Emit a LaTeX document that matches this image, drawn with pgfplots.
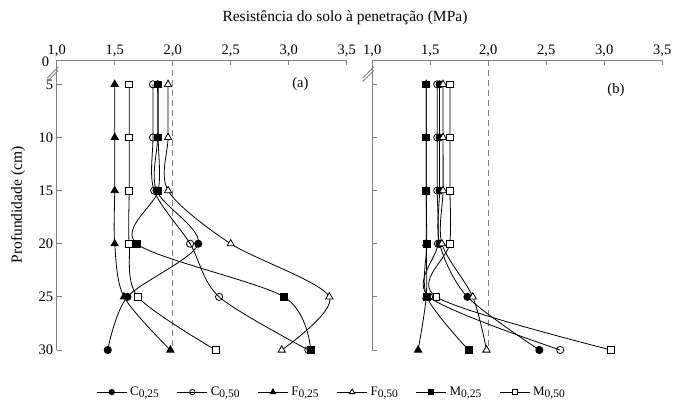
\documentclass[border=0pt]{standalone}
\usepackage{pgfplots}
\pgfplotsset{compat=1.18}
\usepackage{pgfplotstable}
\usepackage{fontspec}
\setmainfont{Liberation Serif}

\definecolor{axgray}{HTML}{808080}
\newcommand\sub[1]{\raisebox{-0.35ex}{\fontsize{11.5}{13}\selectfont #1}}

\pgfplotstableread{
depth C25 C50 F25 F50 M25 M50
5  1.87 1.83 1.50 1.96 1.875 1.625
10 1.87 1.83 1.50 1.96 1.875 1.625
15 1.86 1.84 1.50 1.96 1.875 1.625
20 2.22 2.15 1.50 2.50 1.69 1.625
25 1.61 2.40 1.58 3.35 2.96 1.70
30 1.44 3.17 1.98 2.94 3.19 2.37
}\tabA

\pgfplotstableread{
depth C25 C50 F25 F50 M25 M50
5  1.58 1.56 1.465 1.61 1.465 1.67
10 1.58 1.56 1.465 1.61 1.465 1.67
15 1.58 1.56 1.465 1.61 1.465 1.67
20 1.58 1.566 1.465 1.60 1.47 1.667
25 1.82 1.49 1.465 1.866 1.47 1.552
30 2.44 2.62 1.395 1.985 1.83 3.06
}\tabB

\pgfplotsset{
  panel/.style={
    scale only axis, width=290pt, height=290pt,
    xmin=1, xmax=3.5, ymin=2.71, ymax=30, y dir=reverse,
    axis x line*=top, axis y line*=left,
    axis line style={axgray, line width=0.9pt},
    every tick/.style={axgray, line width=0.9pt},
    tick align=inside, major tick length=5pt,
    xtick={1,1.5,2,2.5,3,3.5},
    ytick={5,10,15,20,25,30},
    xticklabel style={/pgf/number format/.cd, use comma, fixed, fixed zerofill, precision=1, assume math mode=true},
    yticklabel style={/pgf/number format/assume math mode=true},
    tick label style={font=\fontsize{14.5}{16}\selectfont, text=black},
    xticklabel pos=top,
    clip=false,
    anchor=center,
  },
  ser/.style={black, line width=0.8pt, smooth, tension=0.5, mark options={solid, line width=0.7pt}},
}

\begin{document}
\begin{tikzpicture}
\path[use as bounding box] (0,0) rectangle (673pt,-400pt);

\begin{axis}[panel, at={(201.7pt,-205pt)},
  extra y ticks={2.71}, extra y tick labels={0},
  extra y tick style={major tick length=0pt, yticklabel style={xshift=-4pt, yshift=-2pt}},
  legend columns=6,
  legend style={at={(0.948,-0.145)}, anchor=center, draw=none, fill=none,
    font=\fontsize{13}{15}\selectfont,
    /tikz/every even column/.append style={column sep=16pt},
    /tikz/every odd column/.append style={column sep=1pt}},
  legend image code/.code={\draw[#1, /tikz/every mark/.append style={scale=0.75}, mark repeat=2, mark phase=2] plot coordinates {(0pt,0pt) (15pt,0pt) (30pt,0pt)};},
  ylabel={Profundidade (cm)},
  ylabel style={font=\fontsize{15.5}{17}\selectfont, at={(axis description cs:-0.133,0.5)}, anchor=center},
]
\addplot[axgray, dashed, line width=1.5pt, dash pattern=on 6pt off 4pt, forget plot] coordinates {(2,2.71) (2,30)};
\addplot[ser, mark=*, mark size=3.6pt, mark options={fill=black}] table[x=C25, y=depth] {\tabA};
\addlegendentry{C\sub{0,25}}
\addplot[ser, mark=o, mark size=3.6pt, mark options={fill=white}] table[x=C50, y=depth] {\tabA};
\addlegendentry{C\sub{0,50}}
\addplot[ser, mark=triangle*, mark size=4.2pt, mark options={fill=black}] table[x=F25, y=depth] {\tabA};
\addlegendentry{F\sub{0,25}}
\addplot[ser, mark=triangle*, mark size=4.2pt, mark options={fill=white}] table[x=F50, y=depth] {\tabA};
\addlegendentry{F\sub{0,50}}
\addplot[ser, mark=square*, mark size=3.4pt, mark options={fill=black}] table[x=M25, y=depth] {\tabA};
\addlegendentry{M\sub{0,25}}
\addplot[ser, mark=square*, mark size=3.4pt, mark options={fill=white}] table[x=M50, y=depth] {\tabA};
\addlegendentry{M\sub{0,50}}
\node[font=\fontsize{14.5}{16}\selectfont] at (axis cs:3.1,5.0) {(a)};
\node[font=\fontsize{15.5}{17}\selectfont] at (axis description cs:0.994,1.145) {Resistência do solo à penetração (MPa)};
\draw[axgray, line width=0.9pt] ([xshift=-9.5pt,yshift=-5.5pt]axis cs:1,3.89) -- ++(11pt,11pt);
\draw[axgray, line width=0.9pt] ([xshift=-9.5pt,yshift=-5.5pt]axis cs:1,4.22) -- ++(11pt,11pt);
\end{axis}

\begin{axis}[panel, at={(517.3pt,-205pt)}, yticklabels={}]
\addplot[axgray, dashed, line width=1.5pt, dash pattern=on 6pt off 4pt, forget plot] coordinates {(2,2.71) (2,30)};
\addplot[ser, mark=*, mark size=3.6pt, mark options={fill=black}] table[x=C25, y=depth] {\tabB};
\addplot[ser, mark=o, mark size=3.6pt, mark options={fill=white}] table[x=C50, y=depth] {\tabB};
\addplot[ser, mark=triangle*, mark size=4.2pt, mark options={fill=black}] table[x=F25, y=depth] {\tabB};
\addplot[ser, mark=triangle*, mark size=4.2pt, mark options={fill=white}] table[x=F50, y=depth] {\tabB};
\addplot[ser, mark=square*, mark size=3.4pt, mark options={fill=black}] table[x=M25, y=depth] {\tabB};
\addplot[ser, mark=square*, mark size=3.4pt, mark options={fill=white}] table[x=M50, y=depth] {\tabB};
\node[font=\fontsize{14.5}{16}\selectfont] at (axis cs:3.1,5.5) {(b)};
\draw[axgray, line width=0.9pt] ([xshift=-9.5pt,yshift=-5.5pt]axis cs:1,3.89) -- ++(11pt,11pt);
\draw[axgray, line width=0.9pt] ([xshift=-9.5pt,yshift=-5.5pt]axis cs:1,4.22) -- ++(11pt,11pt);
\end{axis}
\end{tikzpicture}
\end{document}
